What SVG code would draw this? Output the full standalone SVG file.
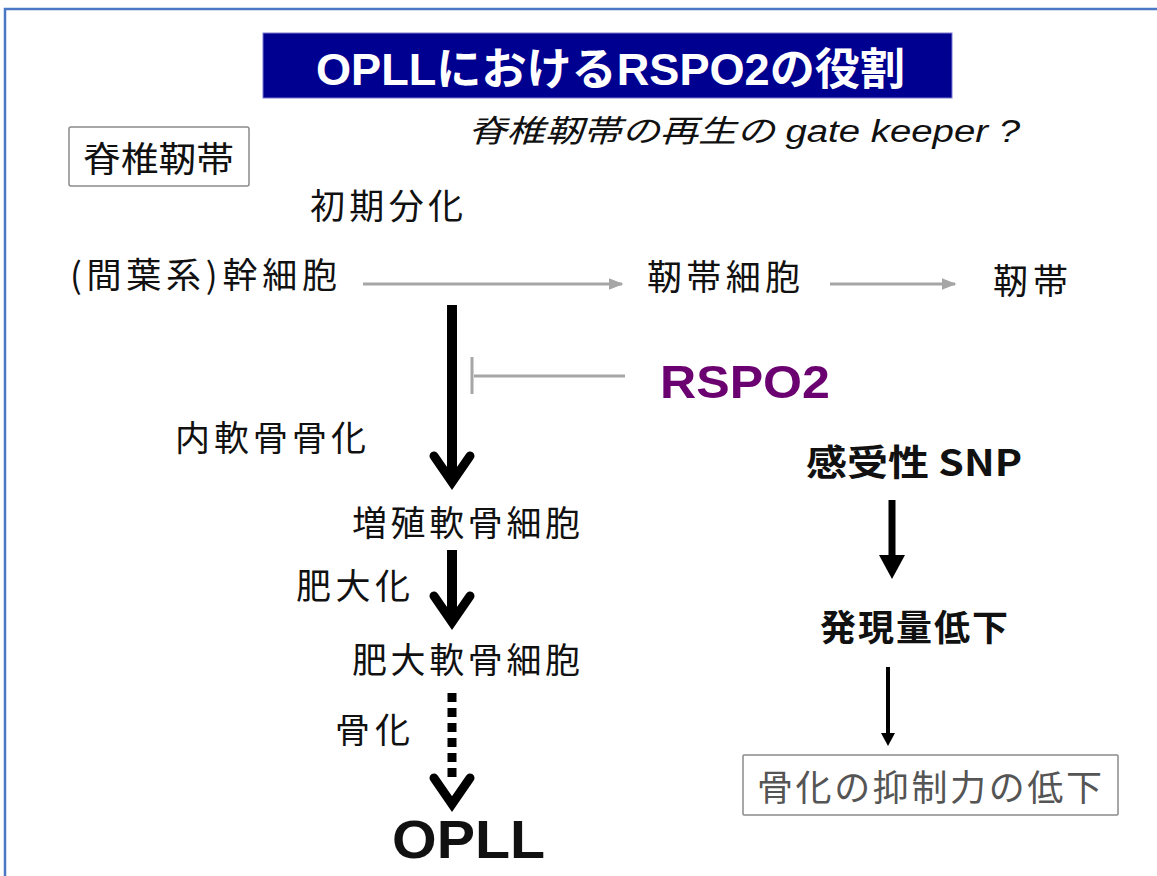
<svg xmlns="http://www.w3.org/2000/svg" width="1157" height="876" viewBox="0 0 1157 876">
<style>
.t{font-family:"Noto Sans CJK JP","Liberation Sans",sans-serif;fill:#111;}
.b{font-family:"Liberation Sans","Noto Sans CJK JP",sans-serif;font-weight:bold;fill:#111;}
.bj{font-family:"Noto Sans CJK JP","Liberation Sans",sans-serif;font-weight:bold;fill:#111;}
.box{fill:#fff;stroke:#8a8a8a;stroke-width:1.5;}
.gray{stroke:#a6a6a6;stroke-width:3;fill:none;}
</style>
<defs>
<marker id="ga" viewBox="0 0 10 10" refX="9" refY="5" markerWidth="5" markerHeight="5" orient="auto" markerUnits="strokeWidth">
<path d="M0,1 L10,5 L0,9 z" fill="#a6a6a6"/>
</marker>
</defs>
<rect x="0" y="0" width="1157" height="876" fill="#fff"/>
<path d="M5,880 L5,9 L1160,9" fill="none" stroke="#4a78c4" stroke-width="2.5"/>

<g id="title">
<rect x="263" y="33" width="689" height="65" fill="#000090" stroke="#7b7bd0" stroke-width="1"/>
<text x="316" y="85" class="b" style="fill:#fff;font-family:'Liberation Sans','Noto Sans CJK JP',sans-serif" font-size="44" textLength="589" lengthAdjust="spacingAndGlyphs">OPLLにおけるRSPO2の役割</text>
</g>
<g id="subtitle">
<text x="468" y="142" style="font-family:'Liberation Sans','Noto Sans CJK JP',sans-serif;fill:#111" font-size="31" font-style="italic" textLength="552" lengthAdjust="spacingAndGlyphs">脊椎靭帯の再生の gate keeper ?</text>
</g>
<g id="n-ligament-box">
<rect class="box" x="69" y="127" width="180" height="59" rx="2"/>
<text x="83" y="172" class="t" font-size="35" textLength="151" lengthAdjust="spacingAndGlyphs">脊椎靭帯</text>
</g>
<g id="n-early">
<text x="310" y="219" class="t" font-size="35" textLength="153" lengthAdjust="spacing">初期分化</text>
</g>
<g id="n-stem">
<text x="70" y="288" class="t" font-size="35" textLength="267" lengthAdjust="spacing">(間葉系)幹細胞</text>
</g>
<g id="n-ligcell">
<text x="647" y="290" class="t" font-size="35" textLength="153" lengthAdjust="spacing">靭帯細胞</text>
</g>
<g id="n-lig">
<text x="993" y="294" class="t" font-size="35" textLength="75" lengthAdjust="spacing">靭帯</text>
</g>
<g id="n-rspo2">
<text x="660" y="398" class="b" font-size="46" style="fill:#6b0070" textLength="170" lengthAdjust="spacingAndGlyphs">RSPO2</text>
</g>
<g id="n-endo">
<text x="175" y="451" class="t" font-size="35" textLength="191" lengthAdjust="spacing">内軟骨骨化</text>
</g>
<g id="n-prolif">
<text x="352" y="536" class="t" font-size="35" textLength="228" lengthAdjust="spacing">増殖軟骨細胞</text>
</g>
<g id="n-hyper">
<text x="296" y="599" class="t" font-size="35" textLength="114" lengthAdjust="spacing">肥大化</text>
</g>
<g id="n-hypercell">
<text x="352" y="673" class="t" font-size="35" textLength="228" lengthAdjust="spacing">肥大軟骨細胞</text>
</g>
<g id="n-oss">
<text x="335" y="743" class="t" font-size="35" textLength="75" lengthAdjust="spacing">骨化</text>
</g>
<g id="n-opll">
<text x="392" y="858" class="b" font-size="54" textLength="153" lengthAdjust="spacingAndGlyphs">OPLL</text>
</g>
<g id="n-snp">
<text x="806" y="476" class="bj" font-size="36" textLength="216" lengthAdjust="spacingAndGlyphs">感受性 SNP</text>
</g>
<g id="n-expr">
<text x="820" y="641" class="bj" font-size="36" textLength="188" lengthAdjust="spacing">発現量低下</text>
</g>
<g id="n-suppress">
<rect class="box" x="743" y="755" width="375" height="60" rx="1"/>
<text x="757" y="801" class="t" font-size="36" style="fill:#555" textLength="345" lengthAdjust="spacing">骨化の抑制力の低下</text>
</g>

<g id="connectors">
<line class="gray" x1="363" y1="284" x2="622" y2="284" marker-end="url(#ga)"/>
<line class="gray" x1="830" y1="284" x2="955" y2="284" marker-end="url(#ga)"/>
<line class="gray" x1="474" y1="376" x2="625" y2="376"/>
<line class="gray" x1="472" y1="357" x2="472" y2="394"/>
<g stroke="#000" fill="none" stroke-linecap="round" stroke-linejoin="miter">
<line x1="452" y1="305" x2="452" y2="482" stroke-width="10" stroke-linecap="butt"/>
<polyline points="434,456 452,482 470,456" stroke-width="9"/>
<line x1="452" y1="550" x2="452" y2="622" stroke-width="10" stroke-linecap="butt"/>
<polyline points="434,596 452,622 470,596" stroke-width="9"/>
<line x1="452" y1="693" x2="452" y2="782" stroke-width="9" stroke-dasharray="9,6" stroke-linecap="butt"/>
<polyline points="434,778 452,804 470,778" stroke-width="9"/>
</g>
<line x1="892" y1="500" x2="892" y2="556" stroke="#000" stroke-width="7"/>
<path d="M879,555 L905,555 L892,579 z" fill="#000"/>
<line x1="888" y1="667" x2="888" y2="734" stroke="#000" stroke-width="4"/>
<path d="M881,733 L895,733 L888,746 z" fill="#000"/>
</g>
</svg>
